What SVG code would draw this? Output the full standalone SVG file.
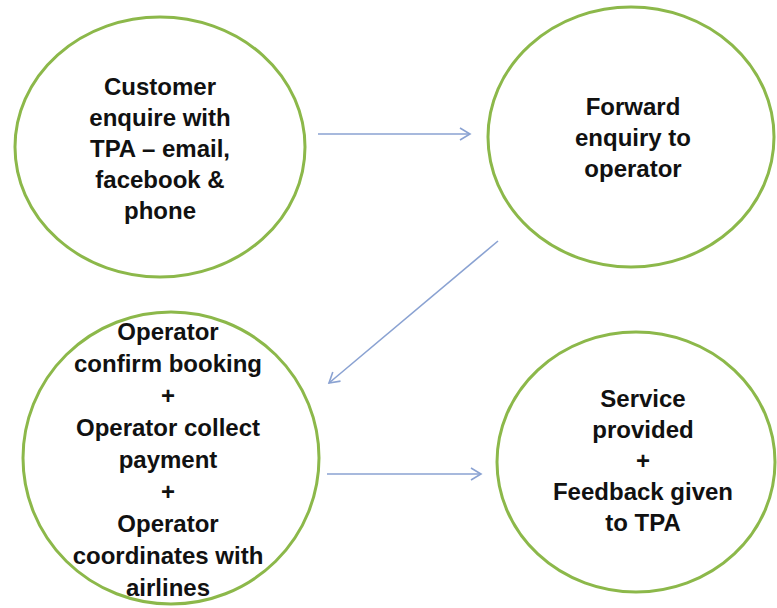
<svg xmlns="http://www.w3.org/2000/svg" width="777" height="608" viewBox="0 0 777 608">
<defs>
<style>
.node ellipse{fill:#fff;stroke:#8cb84a;stroke-width:3}
.node text{font-family:"Liberation Sans",Arial,sans-serif;font-weight:bold;font-size:24px;fill:#111;text-anchor:middle}
.conn line{stroke:#8aa2d2;stroke-width:1.6;fill:none}
</style>
<marker id="arr" markerUnits="userSpaceOnUse" markerWidth="14" markerHeight="14" refX="11" refY="7" orient="auto" viewBox="0 0 14 14">
<path d="M1,1 L11,7 L1,13" fill="none" stroke="#8aa2d2" stroke-width="1.6"/>
</marker>
</defs>
<rect width="777" height="608" fill="#fff"/>
<g id="n1" class="node">
<ellipse cx="160" cy="147" rx="145" ry="130"/>
<text x="160" y="95">Customer</text>
<text x="160" y="126">enquire with</text>
<text x="160" y="157">TPA – email,</text>
<text x="160" y="188">facebook &amp;</text>
<text x="160" y="219">phone</text>
</g>
<g id="n2" class="node">
<ellipse cx="631" cy="137" rx="143" ry="130"/>
<text x="633" y="115">Forward</text>
<text x="633" y="146">enquiry to</text>
<text x="633" y="177">operator</text>
</g>
<g id="n3" class="node">
<ellipse cx="171" cy="458" rx="148" ry="146"/>
<text x="168" y="340">Operator</text>
<text x="168" y="372">confirm booking</text>
<text x="168" y="404">+</text>
<text x="168" y="436">Operator collect</text>
<text x="168" y="468">payment</text>
<text x="168" y="500">+</text>
<text x="168" y="532">Operator</text>
<text x="168" y="564">coordinates with</text>
<text x="168" y="596">airlines</text>
</g>
<g id="n4" class="node">
<ellipse cx="636" cy="462" rx="139" ry="130"/>
<text x="643" y="407">Service</text>
<text x="643" y="438">provided</text>
<text x="643" y="469">+</text>
<text x="643" y="500">Feedback given</text>
<text x="643" y="531">to TPA</text>
</g>
<g id="connectors" class="conn">
<line x1="318" y1="134" x2="470" y2="134" marker-end="url(#arr)"/>
<line x1="498" y1="241" x2="329" y2="383" marker-end="url(#arr)"/>
<line x1="327" y1="474" x2="481" y2="474" marker-end="url(#arr)"/>
</g>
</svg>
